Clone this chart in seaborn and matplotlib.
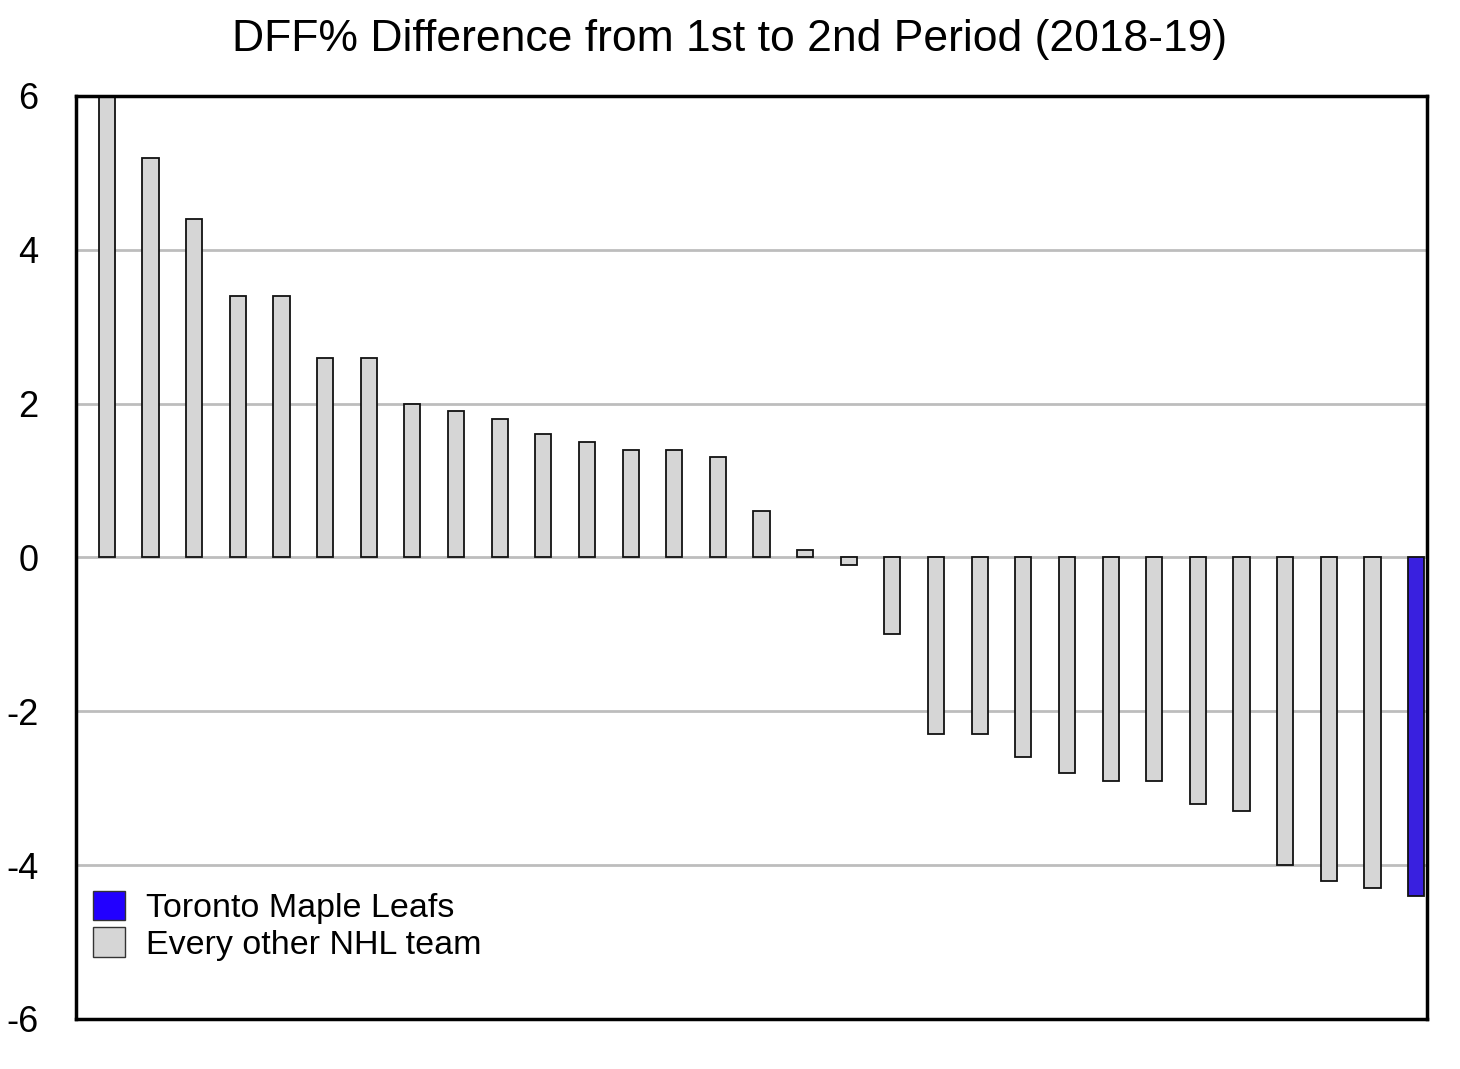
import pandas as pd
import numpy as np
import matplotlib.pyplot as plt
import seaborn as sns
from matplotlib.patches import Patch

# DFF% change, 1st -> 2nd period, sorted high to low
diffs = [6.0, 5.2, 4.4, 3.4, 3.4, 2.6, 2.6, 2.0, 1.9, 1.8, 1.6, 1.5, 1.4, 1.4, 1.3,
         0.6, 0.1, -0.1, -1.0, -2.3, -2.3, -2.6, -2.8, -2.9, -2.9, -3.2, -3.3,
         -4.0, -4.2, -4.3, -4.4]
groups = ["Every other NHL team"] * 30 + ["Toronto Maple Leafs"]
team_ids = [str(i) for i in range(len(diffs))]
y_ticks = [-6, -4, -2, 0, 2, 4, 6]

df = pd.DataFrame({"team": team_ids, "diff": diffs, "group": groups})
colors = {"Toronto Maple Leafs": "#2200ff", "Every other NHL team": "#d6d6d6"}

sns.set_style("white")
plt.rcParams["font.family"] = ["Liberation Sans", "DejaVu Sans"]
plt.rcParams["text.color"] = "black"
plt.rcParams["ytick.color"] = "black"

fig = plt.figure(figsize=(14.6, 10.69), dpi=100)
ax = fig.add_axes([0.052, 0.0468, 0.9254, 0.8634])

for y in [-4, -2, 0, 2, 4]:
    ax.axhline(y, color="#bdbdbd", lw=2, zorder=0)

sns.barplot(data=df, x="team", y="diff", hue="group", palette=colors,
            dodge=False, width=0.37, edgecolor="#111111", linewidth=1.3,
            legend=False, ax=ax, zorder=2)

ax.set_xlim(-0.71, 30.25)
ax.set_ylim(-6, 6)
ax.set_yticks(y_ticks)
ax.set_yticklabels([str(t) for t in y_ticks], fontsize=26)
ax.tick_params(axis="y", length=0, pad=27)
ax.set_xticks([])
ax.set_xlabel("")
ax.set_ylabel("")
for s in ax.spines.values():
    s.set_visible(True)
    s.set_color("black")
    s.set_linewidth(2.5)

fig.text(0.5, 1 - 40 / 1069, "DFF% Difference from 1st to 2nd Period (2018-19)",
         fontsize=32, ha="center", va="center")

handles = [Patch(facecolor=colors["Toronto Maple Leafs"], edgecolor="#333333"),
           Patch(facecolor=colors["Every other NHL team"], edgecolor="#333333")]
ax.legend(handles, ["Toronto Maple Leafs", "Every other NHL team"],
          loc="lower left", bbox_to_anchor=(-0.01, 0.03), frameon=False,
          fontsize=24.5, handlelength=0.95, handleheight=0.95, handletextpad=0.6,
          labelspacing=0.1)

fig.savefig("out.png", dpi=100)
